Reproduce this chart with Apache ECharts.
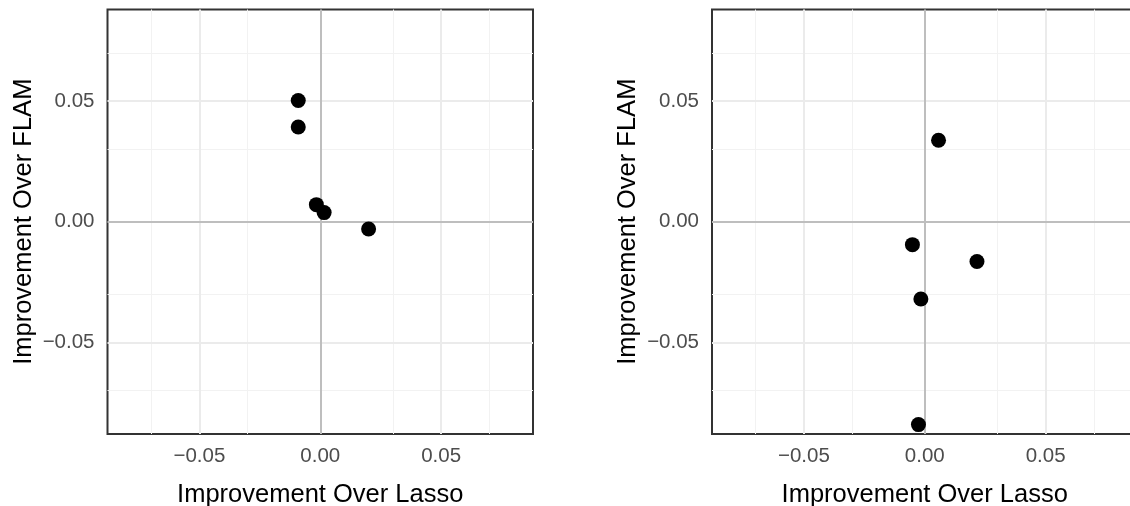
<!DOCTYPE html>
<html><head><meta charset="utf-8">
<script src="https://cdn.jsdelivr.net/npm/echarts@6/dist/echarts.min.js"></script>
<style>html,body{margin:0;padding:0;background:#fff}#c{width:1130px;height:506px}</style>
</head><body><div id="c"></div>
<script>
// ---- data ----
const leftX  = [-0.0091, -0.0091, -0.0016, 0.0016, 0.0200];
const leftY  = [ 0.0503,  0.0393,  0.0071, 0.0038, -0.0030];
const rightX = [ 0.0057, -0.0051,  0.0216, -0.0016, -0.0026];
const rightY = [ 0.0338, -0.0095, -0.0165, -0.0320, -0.0841];
const tickValues = [-0.05, 0, 0.05];
const tickLabels = ['\u22120.05', '0.00', '0.05'];
const minorValues = [-0.075, -0.025, 0.025, 0.075];
const axisMin = -0.088, axisMax = 0.088;
const xTitle = 'Improvement Over Lasso';
const yTitle = 'Improvement Over FLAM';

// ---- chart ----
const FONT = '"Liberation Sans", Arial, Helvetica, sans-serif';
const chart = echarts.init(document.getElementById('c'), null, {renderer: 'canvas'});

const panels = [
  {left: 107.5, x: leftX, y: leftY},
  {left: 712, x: rightX, y: rightY}
];

function fmt(v) {
  for (let i = 0; i < tickValues.length; i++) {
    if (Math.abs(v - tickValues[i]) < 1e-9) return tickLabels[i];
  }
  return '';
}

const grid = [], xAxis = [], yAxis = [], series = [];
panels.forEach((p, i) => {
  grid.push({left: p.left, top: 9.5, width: 425.5, height: 424.5, show: true,
             backgroundColor: '#fff', borderColor: '#333333', borderWidth: 2,
             containLabel: false, outerBoundsMode: 'none'});
  const common = {
    type: 'value', min: axisMin, max: axisMax, gridIndex: i,
    axisLine: {show: false},
    axisTick: {show: true, length: 7, inside: false, customValues: tickValues,
               lineStyle: {color: '#333333', width: 2}},
    axisLabel: {customValues: tickValues, formatter: fmt, color: '#4D4D4D',
                fontSize: 20.5, fontFamily: FONT},
    splitLine: {show: false}, minorSplitLine: {show: false},
    nameLocation: 'middle',
    nameTextStyle: {color: '#000', fontSize: 25.5, fontFamily: FONT}
  };
  xAxis.push(Object.assign({}, common, {
    name: xTitle, nameGap: 48,
    axisLabel: Object.assign({}, common.axisLabel, {margin: 12})
  }));
  yAxis.push(Object.assign({}, common, {
    name: yTitle, nameGap: 71,
    axisLabel: Object.assign({}, common.axisLabel, {margin: 13})
  }));
  const gridData = [];
  minorValues.forEach(v => {
    gridData.push({xAxis: v, lineStyle: {color: '#F2F2F2', width: 1, type: 'solid'}});
    gridData.push({yAxis: v, lineStyle: {color: '#F2F2F2', width: 1, type: 'solid'}});
  });
  tickValues.forEach(v => {
    if (v === 0) return;
    gridData.push({xAxis: v, lineStyle: {color: '#EBEBEB', width: 2, type: 'solid'}});
    gridData.push({yAxis: v, lineStyle: {color: '#EBEBEB', width: 2, type: 'solid'}});
  });
  series.push({
    type: 'scatter', xAxisIndex: i, yAxisIndex: i, data: [], z: 1, silent: true,
    markLine: {silent: true, symbol: ['none', 'none'], label: {show: false}, animation: false,
               data: gridData}
  });
  series.push({
    type: 'scatter', xAxisIndex: i, yAxisIndex: i, data: [], z: 2, silent: true,
    markLine: {silent: true, symbol: ['none', 'none'], label: {show: false}, animation: false,
               data: [{xAxis: 0}, {yAxis: 0}],
               lineStyle: {color: '#BEBEBE', width: 2, type: 'solid'}}
  });
  series.push({
    type: 'scatter', xAxisIndex: i, yAxisIndex: i, z: 5,
    symbol: 'circle', symbolSize: 15,
    itemStyle: {color: '#000000', opacity: 1},
    data: p.x.map((xv, k) => [xv, p.y[k]])
  });
});

chart.setOption({
  animation: false,
  backgroundColor: '#ffffff',
  textStyle: {fontFamily: FONT},
  grid, xAxis, yAxis, series
});
</script>
</body></html>
